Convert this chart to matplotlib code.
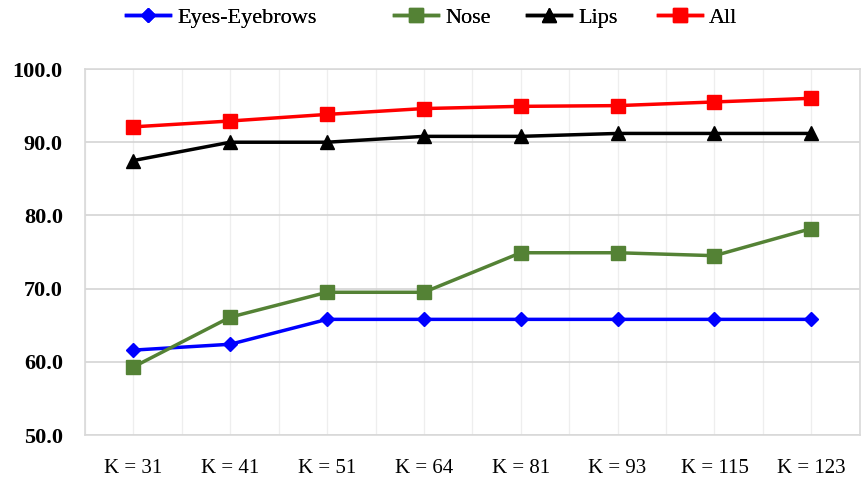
import numpy as np
import matplotlib
matplotlib.use("Agg")
import matplotlib.pyplot as plt

# Values
categories = ["K = 31", "K = 41", "K = 51", "K = 64", "K = 81", "K = 93", "K = 115", "K = 123"]
eyes = [61.6, 62.4, 65.8, 65.8, 65.8, 65.8, 65.8, 65.8]
nose = [59.3, 66.1, 69.5, 69.5, 74.9, 74.9, 74.5, 78.2]
lips = [87.5, 90.0, 90.0, 90.8, 90.8, 91.2, 91.2, 91.2]
all_parts = [92.1, 92.9, 93.8, 94.6, 94.9, 95.0, 95.5, 96.0]
y_ticks = [50, 60, 70, 80, 90, 100]

plt.rcParams["font.family"] = "Liberation Serif"

fig = plt.figure(figsize=(8.61, 4.84), dpi=100)
ax = fig.add_axes([0.0987, 0.1012, 0.8998, 0.7562])

x = np.arange(len(categories))

# faint vertical grid at categories and midpoints
for v in np.arange(-0.5, len(categories), 0.5):
    ax.axvline(v, color="#eeeeee", lw=0.9, zorder=0)
for t in y_ticks:
    ax.axhline(t, color="#d4d4d4", lw=1.2, zorder=0.5)

lines = []
lines += ax.plot(x, eyes, color="#0000FF", lw=2.5, marker="D", ms=7, label="Eyes-Eyebrows", zorder=3)
lines += ax.plot(x, nose, color="#548235", lw=2.5, marker="s", ms=10, label="Nose", zorder=3)
lines += ax.plot(x, lips, color="black", lw=2.5, marker="^", ms=10, label="Lips", zorder=3)
lines += ax.plot(x, all_parts, color="#FF0000", lw=2.5, marker="s", ms=10, label="All", zorder=3)

ax.set_xlim(-0.5, len(categories) - 0.5)
ax.set_ylim(50, 100)
ax.set_yticks(y_ticks)
ax.set_yticklabels([f"{t:.1f}" for t in y_ticks], fontsize=16, fontweight="bold")
ax.set_xticks(x)
ax.set_xticklabels(categories, fontsize=15)
ax.tick_params(axis="y", length=0, pad=16)
ax.tick_params(axis="x", length=0, pad=17)
for s in ax.spines.values():
    s.set_color("#d9d9d9")
    s.set_linewidth(1.2)

# legend entries placed one by one, like the uneven spacing in the original
legend_x = [126, 394, 527, 658]
for ln, lx in zip(lines, legend_x):
    leg = fig.legend(handles=[ln], loc="center left", bbox_to_anchor=(lx / 861, 1 - 18 / 484),
                     frameon=False, fontsize=16, handlelength=2.0, handletextpad=0.3,
                     borderpad=0, borderaxespad=0)
    fig.add_artist(leg)

fig.savefig("out.png", dpi=100)
